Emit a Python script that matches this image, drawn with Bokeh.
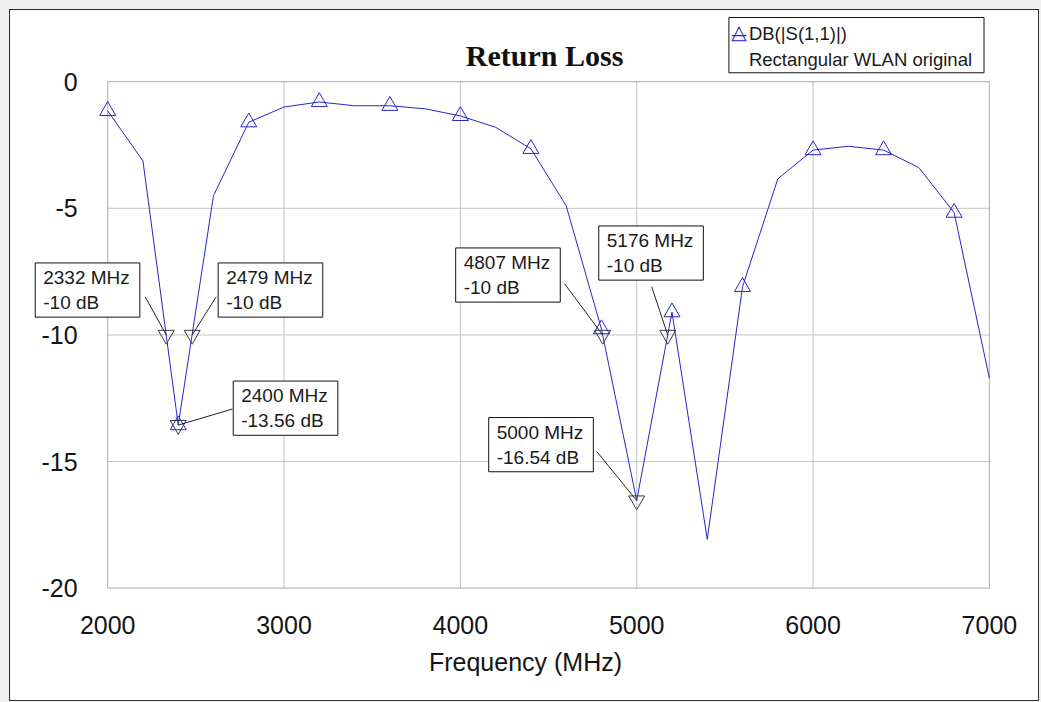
from bokeh.plotting import figure
from bokeh.models import (Range1d, FixedTicker, Label, LinearAxis,
                          PrintfTickFormatter, BoxAnnotation)
from bokeh.embed import file_html
from bokeh.resources import INLINE

# ---------------- data ----------------
freq_mhz = [2000, 2200, 2400, 2600, 2800, 3000, 3200, 3400, 3600, 3800,
            4000, 4200, 4400, 4600, 4800, 5000, 5200, 5400, 5600, 5800,
            6000, 6200, 6400, 6600, 6800, 7000]
s11_db = [-1.15, -3.13, -13.56, -4.5, -1.6, -1.0, -0.8, -0.95, -0.95, -1.07,
          -1.35, -1.8, -2.65, -4.9, -9.77, -16.54, -9.1, -18.07, -8.1, -3.84,
          -2.7, -2.55, -2.7, -3.39, -5.17, -11.71]
marker_freq = [2000, 2400, 2800, 3200, 3600, 4000, 4400, 4800, 5200, 5600,
               6000, 6400, 6800]
ann_freq = [2332, 2479, 2400, 4807, 5000, 5176]
ann_db = [-10, -10, -13.56, -10, -16.54, -10]
x_ticks = [2000, 3000, 4000, 5000, 6000, 7000]
y_ticks = [-20, -15, -10, -5, 0]
chart_title = "Return Loss"
x_label = "Frequency (MHz)"
series_name = "DB(|S(1,1)|)"
series_desc = "Rectangular WLAN original"

lookup = dict(zip(freq_mhz, s11_db))
marker_db = [lookup[f] for f in marker_freq]

# ---------------- layout (canvas pixels) ----------------
FIG_W, FIG_H = 1030, 692          # includes 1px css border
CW, CH = FIG_W - 2, FIG_H - 2     # drawing canvas
PL, PT, PW, PH = 97, 71, 880, 505 # plot rectangle inside canvas
X0, X1, Y0, Y1 = x_ticks[0], x_ticks[-1], y_ticks[0], y_ticks[-1]
kx = (X1 - X0) / PW
ky = (Y1 - Y0) / PH


def px_x(cx):
    return X0 + (cx - PL) * kx


def px_y(cy):
    return Y1 + (PT - cy) * ky


BLUE = "#2626c8"
FONT = "Liberation Sans"
INK = "#141414"
SHADOW = "#8a8a8a"

p = figure(width=FIG_W, height=FIG_H, output_backend="svg", toolbar_location=None,
           title=None, x_axis_location=None, y_axis_location=None,
           x_range=Range1d(px_x(0), px_x(CW)), y_range=Range1d(px_y(CH), px_y(0)),
           min_border=0)
p.styles = {"border": "1px solid #303030", "box-sizing": "border-box",
            "margin-left": "9px", "margin-top": "9px"}
p.background_fill_color = "white"
p.border_fill_color = "white"
p.outline_line_color = None

# ---------------- grid ----------------
inner_x = x_ticks[1:-1]
inner_y = y_ticks[1:-1]
p.segment(inner_x, [Y0] * len(inner_x), inner_x, [Y1] * len(inner_x),
          line_color="#c4c4c4", line_width=1)
p.segment([X0] * len(inner_y), inner_y, [X1] * len(inner_y), inner_y,
          line_color="#c4c4c4", line_width=1)

# ---------------- axes (fixed at the plot box edges) ----------------
xaxis = LinearAxis(fixed_location=Y0, ticker=FixedTicker(ticks=x_ticks),
                   formatter=PrintfTickFormatter(format="%d"))
yaxis = LinearAxis(fixed_location=X0, ticker=FixedTicker(ticks=y_ticks),
                   formatter=PrintfTickFormatter(format="%d"))
for ax in (xaxis, yaxis):
    ax.axis_line_color = None
    ax.major_tick_line_color = None
    ax.minor_tick_line_color = None
    ax.major_tick_out = 0
    ax.major_tick_in = 0
    ax.minor_tick_out = 0
    ax.major_label_text_font = FONT
    ax.major_label_text_font_size = "25px"
    ax.major_label_text_color = INK
xaxis.major_label_standoff = 28
yaxis.major_label_standoff = 30
xaxis.axis_label = x_label
xaxis.axis_label_text_font = FONT
xaxis.axis_label_text_font_size = "25px"
xaxis.axis_label_text_font_style = "normal"
xaxis.axis_label_text_color = INK
xaxis.axis_label_standoff = 10
p.add_layout(xaxis, "below")
p.add_layout(yaxis, "left")
for g in p.grid:
    g.visible = False

# ---------------- series ----------------
line_r = p.line(freq_mhz, s11_db, line_color=BLUE, line_width=1)
mark_r = p.scatter(marker_freq, marker_db, marker="triangle", size=16,
                   fill_color=None, line_color=BLUE, line_width=1)

# ---------------- marker annotations ----------------
box_off = [(-131, -72), (26, -72), (55, -44), (-147, -87), (-148, -83), (-69, -109)]
call_off = [(-21, -38), (24, -38), (54, -16), (-38, -51), (-40, -49), (-16, -48)]

seg_x0 = [f + c[0] * kx for f, c in zip(ann_freq, call_off)]
seg_y0 = [d - c[1] * ky for d, c in zip(ann_db, call_off)]
p.segment(seg_x0, seg_y0, ann_freq, ann_db, line_color="#222222", line_width=1)
p.scatter(ann_freq, ann_db, marker="inverted_triangle", size=16,
          fill_color=None, line_color="#3a3a3a", line_width=1)

p.add_layout(BoxAnnotation(left=X0, right=X1, bottom=Y0, top=Y1,
                           fill_alpha=0, line_color="#1a1a1a", line_width=1.2))

p.add_layout(Label(x=(X0 + X1) / 2, y=Y1, x_offset=-4, y_offset=26, text=chart_title,
                   text_font="Liberation Serif", text_font_style="bold",
                   text_font_size="30px", text_color="#111111",
                   text_align="center", text_baseline="alphabetic"))

pad = dict(left=8, right=10, top=4, bottom=4)
for f, d, (bx, by) in zip(ann_freq, ann_db, box_off):
    txt = f"{f} MHz\n{d:g} dB"
    p.add_layout(Label(x=f, y=d, x_offset=bx + 4, y_offset=-(by + 4), text=txt,
                       text_font=FONT, text_font_size="19px", text_alpha=0,
                       text_align="left", text_baseline="top",
                       background_fill_color=SHADOW, padding=pad))
    p.add_layout(Label(x=f, y=d, x_offset=bx, y_offset=-by, text=txt,
                       text_font=FONT, text_font_size="19px", text_color="#1a1a1a",
                       text_align="left", text_baseline="top",
                       background_fill_color="white", border_line_color="#111111",
                       border_line_width=1, padding=pad))

# ---------------- legend box (top-left at canvas 717, 7) ----------------
leg_txt = f"{series_name}\n{series_desc}"
leg_pad = dict(left=20, right=12, top=5, bottom=3)
p.add_layout(Label(x=px_x(717 + 4), y=px_y(7 + 4), text=leg_txt,
                   text_font=FONT, text_font_size="18.5px", text_alpha=0,
                   text_line_height=1.25, text_align="left", text_baseline="top",
                   background_fill_color=SHADOW, padding=leg_pad))
p.add_layout(Label(x=px_x(717), y=px_y(7), text=leg_txt,
                   text_font=FONT, text_font_size="18.5px", text_color="#1a1a1a",
                   text_line_height=1.25, text_align="left", text_baseline="top",
                   background_fill_color="white", border_line_color="#111111",
                   border_line_width=1, padding=leg_pad))
# legend key: line + triangle
p.add_layout(Label(x=px_x(727), y=px_y(24), text="\u2014", text_color=BLUE,
                   text_font="DejaVu Sans", text_font_size="16px",
                   text_align="center", text_baseline="middle"))
p.add_layout(Label(x=px_x(727), y=px_y(21), text="\u25b3", text_color=BLUE,
                   text_font="DejaVu Sans", text_font_size="20px",
                   text_align="center", text_baseline="middle"))

html = file_html(p, INLINE)
html = html.replace("</head>", "<style>html, body {background:#f0f0f0;}</style></head>", 1)
open("out.html", "w").write(html)
